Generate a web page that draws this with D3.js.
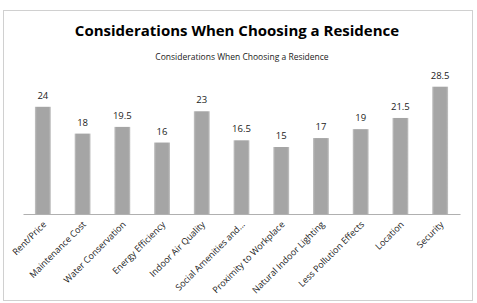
<!DOCTYPE html>
<html>
<head>
<meta charset="utf-8">
<script src="https://cdn.jsdelivr.net/npm/d3@7"></script>
<style>
  body { margin: 0; background: #fff; }
  text { font-family: "Open Sans", "Noto Sans", sans-serif; }
</style>
</head>
<body>
<div id="chart"></div>
<script>
// categories and values
var categories = ["Rent/Price", "Maintenance Cost", "Water Conservation", "Energy Efficiency",
  "Indoor Air Quality", "Social Amenities and...", "Proximity to Workplace",
  "Natural Indoor Lighting", "Less Pollution Effects", "Location", "Security"];
var values = [24, 18, 19.5, 16, 23, 16.5, 15, 17, 19, 21.5, 28.5];
var valueLabels = ["24", "18", "19.5", "16", "23", "16.5", "15", "17", "19", "21.5", "28.5"];

var width = 477, height = 303;
var plot = {left: 23, right: 460, top: 80, bottom: 214};

var svg = d3.select('#chart').append('svg')
  .attr('width', width)
  .attr('height', height);

// outer frame
svg.append('rect')
  .attr('x', 3.5).attr('y', 10.5)
  .attr('width', 469).attr('height', 290)
  .attr('fill', '#fff')
  .attr('stroke', '#d0d0d0');

svg.append('text')
  .attr('x', 237).attr('y', 36)
  .attr('text-anchor', 'middle')
  .style('font-size', '15px')
  .style('font-weight', 'bold')
  .text('Considerations When Choosing a Residence');

svg.append('text')
  .attr('x', 242).attr('y', 60)
  .attr('text-anchor', 'middle')
  .style('font-size', '8.5px')
  .attr('fill', '#222')
  .text('Considerations When Choosing a Residence');

var xScale = d3.scaleBand()
  .domain(categories)
  .range([plot.left, plot.right])
  .paddingInner(0.6)
  .paddingOuter(0.3);

var yScale = d3.scaleLinear()
  .domain([0, 30])
  .range([plot.bottom, plot.top]);

var defs = svg.append('defs');
var grad = defs.append('linearGradient').attr('id', 'barGrad');
grad.append('stop').attr('offset', '0%').attr('stop-color', '#c4c4c4');
grad.append('stop').attr('offset', '12%').attr('stop-color', '#a5a5a5');
grad.append('stop').attr('offset', '88%').attr('stop-color', '#a5a5a5');
grad.append('stop').attr('offset', '100%').attr('stop-color', '#c4c4c4');

svg.selectAll('rect.bar').data(values)
  .enter().append('rect')
  .attr('class', 'bar')
  .attr('fill', 'url(#barGrad)')
  .attr('x', function (d, i) { return xScale(categories[i]); })
  .attr('width', xScale.bandwidth())
  .attr('y', function (d) { return yScale(d); })
  .attr('height', function (d) { return plot.bottom - yScale(d); });

svg.selectAll('text.val').data(values)
  .enter().append('text')
  .attr('class', 'val')
  .attr('text-anchor', 'middle')
  .style('font-size', '9.5px')
  .attr('fill', '#222')
  .attr('x', function (d, i) { return xScale(categories[i]) + xScale.bandwidth() / 2; })
  .attr('y', function (d) { return yScale(d) - 8; })
  .text(function (d, i) { return valueLabels[i]; });

var xAxis = d3.axisBottom(xScale).tickSize(0).tickPadding(0);
var gx = svg.append('g')
  .attr('transform', 'translate(0,' + plot.bottom + ')')
  .call(xAxis);
gx.select('.domain').attr('stroke', '#b0b0b0').attr('stroke-width', 1.2);
gx.selectAll('text')
  .style('font-size', '9px')
  .attr('fill', '#222')
  .attr('text-anchor', 'end')
  .attr('dy', '0')
  .attr('transform', 'translate(4,11) rotate(-45)');
</script>
</body>
</html>
